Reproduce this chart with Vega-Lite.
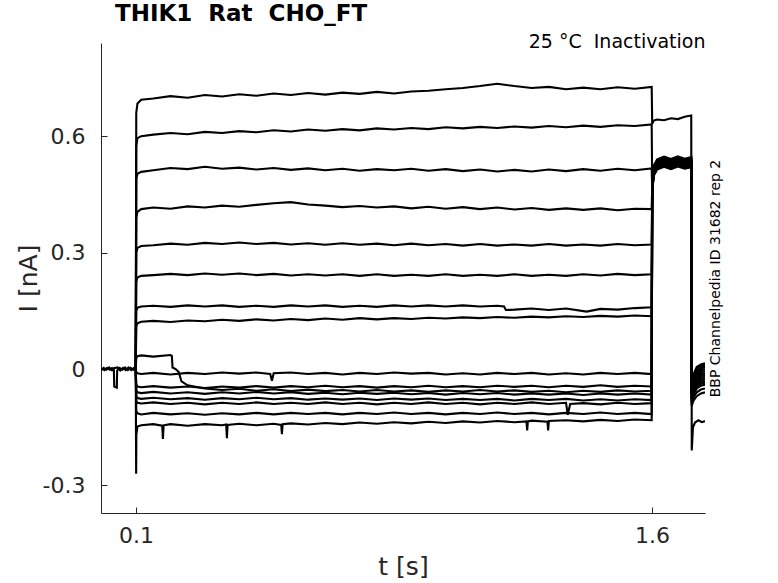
{
  "$schema": "https://vega.github.io/schema/vega-lite/v6.json",
  "width": 604,
  "height": 470,
  "autosize": {"type": "none"},
  "padding": {"left": 101, "top": 43, "right": 73, "bottom": 70},
  "background": "white",
  "title": {
    "text": "THIK1\u00a0\u00a0Rat\u00a0\u00a0CHO_FT",
    "anchor": "start",
    "frame": "group",
    "dx": 14,
    "offset": 6,
    "font": "DejaVu Sans",
    "fontSize": 23,
    "fontWeight": "bold",
    "color": "black"
  },
  "config": {
    "view": {"stroke": null},
    "axis": {
      "grid": false,
      "domainColor": "#262626",
      "tickColor": "#262626",
      "labelColor": "#262626",
      "titleColor": "#262626",
      "labelFont": "DejaVu Sans",
      "titleFont": "DejaVu Sans",
      "titleFontWeight": "normal"
    }
  },
  "data": {
    "values": [
      {"k":0,"t":0,"i":0.002},{"k":0,"t":0.008,"i":-0.003},{"k":0,"t":0.016,"i":0.003},{"k":0,"t":0.024,"i":-0.002},{"k":0,"t":0.03,"i":0.002},{"k":0,"t":0.0355,"i":-0.003},{"k":0,"t":0.0365,"i":-0.045},{"k":0,"t":0.044,"i":-0.048},{"k":0,"t":0.045,"i":-0.004},{"k":0,"t":0.052,"i":0.003},{"k":0,"t":0.06,"i":-0.002},{"k":0,"t":0.068,"i":0.004},{"k":0,"t":0.076,"i":-0.003},{"k":0,"t":0.084,"i":0.003},{"k":0,"t":0.092,"i":-0.002},{"k":0,"t":0.0985,"i":0.001},
      {"k":17,"t":0,"i":-0.003},{"k":17,"t":0.006,"i":0.003},{"k":17,"t":0.014,"i":-0.002},{"k":17,"t":0.022,"i":0.004},{"k":17,"t":0.03,"i":-0.003},{"k":17,"t":0.035,"i":0.002},{"k":17,"t":0.046,"i":0.004},{"k":17,"t":0.054,"i":-0.004},{"k":17,"t":0.062,"i":0.003},{"k":17,"t":0.07,"i":-0.003},{"k":17,"t":0.078,"i":0.004},{"k":17,"t":0.086,"i":-0.003},{"k":17,"t":0.094,"i":0.003},{"k":17,"t":0.0985,"i":-0.001},

      {"k":1,"t":0.099,"i":0.001},{"k":1,"t":0.1005,"i":0.66},{"k":1,"t":0.104,"i":0.684},{"k":1,"t":0.115,"i":0.694},{"k":1,"t":0.15,"i":0.697},{"k":1,"t":0.2,"i":0.703},{"k":1,"t":0.25,"i":0.699},{"k":1,"t":0.3,"i":0.706},{"k":1,"t":0.35,"i":0.702},{"k":1,"t":0.4,"i":0.708},{"k":1,"t":0.45,"i":0.704},{"k":1,"t":0.5,"i":0.71},{"k":1,"t":0.55,"i":0.706},{"k":1,"t":0.6,"i":0.711},{"k":1,"t":0.65,"i":0.707},{"k":1,"t":0.7,"i":0.712},{"k":1,"t":0.75,"i":0.709},{"k":1,"t":0.8,"i":0.714},{"k":1,"t":0.85,"i":0.71},{"k":1,"t":0.9,"i":0.715},{"k":1,"t":0.95,"i":0.717},{"k":1,"t":1.0,"i":0.721},{"k":1,"t":1.05,"i":0.724},{"k":1,"t":1.1,"i":0.729},{"k":1,"t":1.15,"i":0.735},{"k":1,"t":1.2,"i":0.729},{"k":1,"t":1.25,"i":0.724},{"k":1,"t":1.3,"i":0.727},{"k":1,"t":1.35,"i":0.721},{"k":1,"t":1.4,"i":0.725},{"k":1,"t":1.45,"i":0.721},{"k":1,"t":1.5,"i":0.726},{"k":1,"t":1.55,"i":0.722},{"k":1,"t":1.599,"i":0.727},
      {"k":1,"t":1.6005,"i":0.632},{"k":1,"t":1.605,"i":0.64},{"k":1,"t":1.615,"i":0.643},{"k":1,"t":1.635,"i":0.641},{"k":1,"t":1.655,"i":0.646},{"k":1,"t":1.675,"i":0.644},{"k":1,"t":1.695,"i":0.65},{"k":1,"t":1.714,"i":0.653},{"k":1,"t":1.7155,"i":-0.21},{"k":1,"t":1.719,"i":-0.15},{"k":1,"t":1.725,"i":-0.138},{"k":1,"t":1.735,"i":-0.132},{"k":1,"t":1.745,"i":-0.137},{"k":1,"t":1.754,"i":-0.134},

      {"k":2,"t":0.099,"i":0.0},{"k":2,"t":0.1005,"i":0.575},{"k":2,"t":0.104,"i":0.595},{"k":2,"t":0.115,"i":0.6},{"k":2,"t":0.15,"i":0.604},{"k":2,"t":0.2,"i":0.608},{"k":2,"t":0.25,"i":0.605},{"k":2,"t":0.3,"i":0.611},{"k":2,"t":0.35,"i":0.608},{"k":2,"t":0.4,"i":0.613},{"k":2,"t":0.45,"i":0.61},{"k":2,"t":0.5,"i":0.615},{"k":2,"t":0.55,"i":0.612},{"k":2,"t":0.6,"i":0.617},{"k":2,"t":0.65,"i":0.614},{"k":2,"t":0.7,"i":0.618},{"k":2,"t":0.75,"i":0.615},{"k":2,"t":0.8,"i":0.62},{"k":2,"t":0.85,"i":0.617},{"k":2,"t":0.9,"i":0.621},{"k":2,"t":0.95,"i":0.618},{"k":2,"t":1.0,"i":0.623},{"k":2,"t":1.05,"i":0.62},{"k":2,"t":1.1,"i":0.624},{"k":2,"t":1.15,"i":0.621},{"k":2,"t":1.2,"i":0.625},{"k":2,"t":1.25,"i":0.622},{"k":2,"t":1.3,"i":0.626},{"k":2,"t":1.35,"i":0.623},{"k":2,"t":1.4,"i":0.627},{"k":2,"t":1.45,"i":0.624},{"k":2,"t":1.5,"i":0.628},{"k":2,"t":1.55,"i":0.626},{"k":2,"t":1.599,"i":0.63},
      {"k":2,"t":1.6005,"i":0.476},{"k":2,"t":1.605,"i":0.52},{"k":2,"t":1.615,"i":0.536},{"k":2,"t":1.635,"i":0.544},{"k":2,"t":1.655,"i":0.537},{"k":2,"t":1.675,"i":0.545},{"k":2,"t":1.695,"i":0.539},{"k":2,"t":1.714,"i":0.543},{"k":2,"t":1.7155,"i":-0.04},{"k":2,"t":1.72,"i":-0.018},{"k":2,"t":1.73,"i":0.002},{"k":2,"t":1.742,"i":0.009},{"k":2,"t":1.754,"i":0.012},

      {"k":3,"t":0.099,"i":0.001},{"k":3,"t":0.1005,"i":0.49},{"k":3,"t":0.104,"i":0.503},{"k":3,"t":0.115,"i":0.508},{"k":3,"t":0.15,"i":0.512},{"k":3,"t":0.2,"i":0.518},{"k":3,"t":0.25,"i":0.515},{"k":3,"t":0.3,"i":0.521},{"k":3,"t":0.35,"i":0.516},{"k":3,"t":0.4,"i":0.519},{"k":3,"t":0.45,"i":0.514},{"k":3,"t":0.5,"i":0.518},{"k":3,"t":0.55,"i":0.513},{"k":3,"t":0.6,"i":0.517},{"k":3,"t":0.65,"i":0.512},{"k":3,"t":0.7,"i":0.516},{"k":3,"t":0.75,"i":0.511},{"k":3,"t":0.8,"i":0.515},{"k":3,"t":0.85,"i":0.512},{"k":3,"t":0.9,"i":0.516},{"k":3,"t":0.95,"i":0.511},{"k":3,"t":1.0,"i":0.515},{"k":3,"t":1.05,"i":0.51},{"k":3,"t":1.1,"i":0.514},{"k":3,"t":1.15,"i":0.509},{"k":3,"t":1.2,"i":0.513},{"k":3,"t":1.25,"i":0.509},{"k":3,"t":1.3,"i":0.514},{"k":3,"t":1.35,"i":0.51},{"k":3,"t":1.4,"i":0.515},{"k":3,"t":1.45,"i":0.511},{"k":3,"t":1.5,"i":0.516},{"k":3,"t":1.55,"i":0.512},{"k":3,"t":1.599,"i":0.517},
      {"k":3,"t":1.6005,"i":0.462},{"k":3,"t":1.605,"i":0.505},{"k":3,"t":1.615,"i":0.521},{"k":3,"t":1.635,"i":0.528},{"k":3,"t":1.655,"i":0.522},{"k":3,"t":1.675,"i":0.53},{"k":3,"t":1.695,"i":0.523},{"k":3,"t":1.714,"i":0.527},{"k":3,"t":1.7155,"i":-0.052},{"k":3,"t":1.72,"i":-0.03},{"k":3,"t":1.73,"i":-0.012},{"k":3,"t":1.742,"i":-0.003},{"k":3,"t":1.754,"i":0.0},

      {"k":4,"t":0.099,"i":0.0},{"k":4,"t":0.1005,"i":0.39},{"k":4,"t":0.104,"i":0.405},{"k":4,"t":0.115,"i":0.412},{"k":4,"t":0.15,"i":0.416},{"k":4,"t":0.2,"i":0.413},{"k":4,"t":0.25,"i":0.419},{"k":4,"t":0.3,"i":0.416},{"k":4,"t":0.35,"i":0.421},{"k":4,"t":0.4,"i":0.418},{"k":4,"t":0.45,"i":0.423},{"k":4,"t":0.5,"i":0.427},{"k":4,"t":0.55,"i":0.43},{"k":4,"t":0.6,"i":0.424},{"k":4,"t":0.65,"i":0.421},{"k":4,"t":0.7,"i":0.417},{"k":4,"t":0.75,"i":0.42},{"k":4,"t":0.8,"i":0.416},{"k":4,"t":0.85,"i":0.419},{"k":4,"t":0.9,"i":0.414},{"k":4,"t":0.95,"i":0.418},{"k":4,"t":1.0,"i":0.413},{"k":4,"t":1.05,"i":0.417},{"k":4,"t":1.1,"i":0.412},{"k":4,"t":1.15,"i":0.416},{"k":4,"t":1.2,"i":0.411},{"k":4,"t":1.25,"i":0.415},{"k":4,"t":1.3,"i":0.41},{"k":4,"t":1.35,"i":0.414},{"k":4,"t":1.4,"i":0.41},{"k":4,"t":1.45,"i":0.414},{"k":4,"t":1.5,"i":0.409},{"k":4,"t":1.55,"i":0.413},{"k":4,"t":1.599,"i":0.412},
      {"k":4,"t":1.6005,"i":0.47},{"k":4,"t":1.605,"i":0.514},{"k":4,"t":1.615,"i":0.531},{"k":4,"t":1.635,"i":0.539},{"k":4,"t":1.655,"i":0.532},{"k":4,"t":1.675,"i":0.538},{"k":4,"t":1.695,"i":0.533},{"k":4,"t":1.714,"i":0.537},{"k":4,"t":1.7155,"i":-0.062},{"k":4,"t":1.72,"i":-0.04},{"k":4,"t":1.73,"i":-0.022},{"k":4,"t":1.742,"i":-0.013},{"k":4,"t":1.754,"i":-0.01},

      {"k":5,"t":0.099,"i":-0.001},{"k":5,"t":0.1005,"i":0.3},{"k":5,"t":0.104,"i":0.312},{"k":5,"t":0.115,"i":0.317},{"k":5,"t":0.15,"i":0.319},{"k":5,"t":0.2,"i":0.323},{"k":5,"t":0.25,"i":0.32},{"k":5,"t":0.3,"i":0.325},{"k":5,"t":0.35,"i":0.322},{"k":5,"t":0.4,"i":0.326},{"k":5,"t":0.45,"i":0.322},{"k":5,"t":0.5,"i":0.325},{"k":5,"t":0.55,"i":0.321},{"k":5,"t":0.6,"i":0.324},{"k":5,"t":0.65,"i":0.32},{"k":5,"t":0.7,"i":0.324},{"k":5,"t":0.75,"i":0.32},{"k":5,"t":0.8,"i":0.323},{"k":5,"t":0.85,"i":0.319},{"k":5,"t":0.9,"i":0.323},{"k":5,"t":0.95,"i":0.319},{"k":5,"t":1.0,"i":0.322},{"k":5,"t":1.05,"i":0.318},{"k":5,"t":1.1,"i":0.322},{"k":5,"t":1.15,"i":0.318},{"k":5,"t":1.2,"i":0.321},{"k":5,"t":1.25,"i":0.318},{"k":5,"t":1.3,"i":0.322},{"k":5,"t":1.35,"i":0.318},{"k":5,"t":1.4,"i":0.321},{"k":5,"t":1.45,"i":0.318},{"k":5,"t":1.5,"i":0.322},{"k":5,"t":1.55,"i":0.319},{"k":5,"t":1.599,"i":0.321},
      {"k":5,"t":1.6005,"i":0.458},{"k":5,"t":1.605,"i":0.5},{"k":5,"t":1.615,"i":0.517},{"k":5,"t":1.635,"i":0.523},{"k":5,"t":1.655,"i":0.516},{"k":5,"t":1.675,"i":0.524},{"k":5,"t":1.695,"i":0.518},{"k":5,"t":1.714,"i":0.522},{"k":5,"t":1.7155,"i":-0.045},{"k":5,"t":1.72,"i":-0.024},{"k":5,"t":1.73,"i":-0.005},{"k":5,"t":1.742,"i":0.004},{"k":5,"t":1.754,"i":0.008},

      {"k":6,"t":0.099,"i":0.001},{"k":6,"t":0.1005,"i":0.225},{"k":6,"t":0.104,"i":0.236},{"k":6,"t":0.115,"i":0.24},{"k":6,"t":0.15,"i":0.242},{"k":6,"t":0.2,"i":0.245},{"k":6,"t":0.25,"i":0.242},{"k":6,"t":0.3,"i":0.246},{"k":6,"t":0.35,"i":0.243},{"k":6,"t":0.4,"i":0.246},{"k":6,"t":0.45,"i":0.242},{"k":6,"t":0.5,"i":0.245},{"k":6,"t":0.55,"i":0.241},{"k":6,"t":0.6,"i":0.244},{"k":6,"t":0.65,"i":0.241},{"k":6,"t":0.7,"i":0.244},{"k":6,"t":0.75,"i":0.24},{"k":6,"t":0.8,"i":0.244},{"k":6,"t":0.85,"i":0.24},{"k":6,"t":0.9,"i":0.243},{"k":6,"t":0.95,"i":0.24},{"k":6,"t":1.0,"i":0.244},{"k":6,"t":1.05,"i":0.24},{"k":6,"t":1.1,"i":0.243},{"k":6,"t":1.15,"i":0.24},{"k":6,"t":1.2,"i":0.244},{"k":6,"t":1.25,"i":0.24},{"k":6,"t":1.3,"i":0.243},{"k":6,"t":1.35,"i":0.24},{"k":6,"t":1.4,"i":0.244},{"k":6,"t":1.45,"i":0.241},{"k":6,"t":1.5,"i":0.245},{"k":6,"t":1.55,"i":0.242},{"k":6,"t":1.599,"i":0.244},
      {"k":6,"t":1.6005,"i":0.478},{"k":6,"t":1.605,"i":0.522},{"k":6,"t":1.615,"i":0.538},{"k":6,"t":1.635,"i":0.546},{"k":6,"t":1.655,"i":0.539},{"k":6,"t":1.675,"i":0.545},{"k":6,"t":1.695,"i":0.54},{"k":6,"t":1.714,"i":0.544},{"k":6,"t":1.7155,"i":-0.07},{"k":6,"t":1.72,"i":-0.05},{"k":6,"t":1.73,"i":-0.032},{"k":6,"t":1.742,"i":-0.023},{"k":6,"t":1.754,"i":-0.02},

      {"k":7,"t":0.099,"i":0.0},{"k":7,"t":0.1005,"i":0.15},{"k":7,"t":0.104,"i":0.158},{"k":7,"t":0.115,"i":0.161},{"k":7,"t":0.15,"i":0.163},{"k":7,"t":0.2,"i":0.16},{"k":7,"t":0.25,"i":0.164},{"k":7,"t":0.3,"i":0.161},{"k":7,"t":0.35,"i":0.164},{"k":7,"t":0.4,"i":0.16},{"k":7,"t":0.45,"i":0.163},{"k":7,"t":0.5,"i":0.16},{"k":7,"t":0.55,"i":0.164},{"k":7,"t":0.6,"i":0.161},{"k":7,"t":0.65,"i":0.164},{"k":7,"t":0.7,"i":0.16},{"k":7,"t":0.75,"i":0.163},{"k":7,"t":0.8,"i":0.16},{"k":7,"t":0.85,"i":0.164},{"k":7,"t":0.9,"i":0.161},{"k":7,"t":0.95,"i":0.164},{"k":7,"t":1.0,"i":0.161},{"k":7,"t":1.05,"i":0.164},{"k":7,"t":1.1,"i":0.161},{"k":7,"t":1.15,"i":0.163},{"k":7,"t":1.17,"i":0.161},{"k":7,"t":1.175,"i":0.152},{"k":7,"t":1.2,"i":0.153},{"k":7,"t":1.25,"i":0.156},{"k":7,"t":1.3,"i":0.152},{"k":7,"t":1.35,"i":0.156},{"k":7,"t":1.41,"i":0.148},{"k":7,"t":1.45,"i":0.155},{"k":7,"t":1.5,"i":0.153},{"k":7,"t":1.55,"i":0.157},{"k":7,"t":1.599,"i":0.159},
      {"k":7,"t":1.6005,"i":0.466},{"k":7,"t":1.605,"i":0.51},{"k":7,"t":1.615,"i":0.527},{"k":7,"t":1.635,"i":0.534},{"k":7,"t":1.655,"i":0.526},{"k":7,"t":1.675,"i":0.533},{"k":7,"t":1.695,"i":0.528},{"k":7,"t":1.714,"i":0.532},{"k":7,"t":1.7155,"i":-0.035},{"k":7,"t":1.72,"i":-0.015},{"k":7,"t":1.73,"i":0.005},{"k":7,"t":1.742,"i":0.012},{"k":7,"t":1.754,"i":0.015},

      {"k":8,"t":0.099,"i":0.001},{"k":8,"t":0.1005,"i":0.11},{"k":8,"t":0.104,"i":0.118},{"k":8,"t":0.115,"i":0.122},{"k":8,"t":0.15,"i":0.124},{"k":8,"t":0.2,"i":0.121},{"k":8,"t":0.25,"i":0.125},{"k":8,"t":0.3,"i":0.123},{"k":8,"t":0.35,"i":0.127},{"k":8,"t":0.4,"i":0.124},{"k":8,"t":0.45,"i":0.128},{"k":8,"t":0.5,"i":0.125},{"k":8,"t":0.55,"i":0.129},{"k":8,"t":0.6,"i":0.126},{"k":8,"t":0.65,"i":0.13},{"k":8,"t":0.7,"i":0.127},{"k":8,"t":0.75,"i":0.131},{"k":8,"t":0.8,"i":0.128},{"k":8,"t":0.85,"i":0.131},{"k":8,"t":0.9,"i":0.129},{"k":8,"t":0.95,"i":0.132},{"k":8,"t":1.0,"i":0.13},{"k":8,"t":1.05,"i":0.133},{"k":8,"t":1.1,"i":0.131},{"k":8,"t":1.15,"i":0.134},{"k":8,"t":1.2,"i":0.132},{"k":8,"t":1.25,"i":0.135},{"k":8,"t":1.3,"i":0.133},{"k":8,"t":1.35,"i":0.136},{"k":8,"t":1.4,"i":0.134},{"k":8,"t":1.45,"i":0.137},{"k":8,"t":1.5,"i":0.135},{"k":8,"t":1.55,"i":0.138},{"k":8,"t":1.599,"i":0.136},
      {"k":8,"t":1.6005,"i":0.455},{"k":8,"t":1.605,"i":0.498},{"k":8,"t":1.615,"i":0.514},{"k":8,"t":1.635,"i":0.521},{"k":8,"t":1.655,"i":0.515},{"k":8,"t":1.675,"i":0.522},{"k":8,"t":1.695,"i":0.516},{"k":8,"t":1.714,"i":0.52},{"k":8,"t":1.7155,"i":-0.078},{"k":8,"t":1.72,"i":-0.058},{"k":8,"t":1.73,"i":-0.042},{"k":8,"t":1.742,"i":-0.033},{"k":8,"t":1.754,"i":-0.03},

      {"k":9,"t":0.099,"i":0.001},{"k":9,"t":0.1005,"i":0.028},{"k":9,"t":0.104,"i":0.033},{"k":9,"t":0.115,"i":0.035},{"k":9,"t":0.15,"i":0.032},{"k":9,"t":0.2,"i":0.036},{"k":9,"t":0.204,"i":0.034},{"k":9,"t":0.206,"i":0.004},{"k":9,"t":0.215,"i":0.0},{"k":9,"t":0.224,"i":-0.008},{"k":9,"t":0.232,"i":-0.032},{"k":9,"t":0.25,"i":-0.042},{"k":9,"t":0.3,"i":-0.05},{"k":9,"t":0.35,"i":-0.054},{"k":9,"t":0.4,"i":-0.051},{"k":9,"t":0.45,"i":-0.056},{"k":9,"t":0.5,"i":-0.052},{"k":9,"t":0.55,"i":-0.057},{"k":9,"t":0.6,"i":-0.053},{"k":9,"t":0.65,"i":-0.057},{"k":9,"t":0.7,"i":-0.054},{"k":9,"t":0.75,"i":-0.058},{"k":9,"t":0.8,"i":-0.054},{"k":9,"t":0.85,"i":-0.058},{"k":9,"t":0.9,"i":-0.055},{"k":9,"t":0.95,"i":-0.059},{"k":9,"t":1.0,"i":-0.055},{"k":9,"t":1.05,"i":-0.058},{"k":9,"t":1.1,"i":-0.054},{"k":9,"t":1.15,"i":-0.058},{"k":9,"t":1.2,"i":-0.055},{"k":9,"t":1.25,"i":-0.059},{"k":9,"t":1.3,"i":-0.056},{"k":9,"t":1.35,"i":-0.06},{"k":9,"t":1.4,"i":-0.056},{"k":9,"t":1.45,"i":-0.059},{"k":9,"t":1.5,"i":-0.055},{"k":9,"t":1.55,"i":-0.058},{"k":9,"t":1.599,"i":-0.056},
      {"k":9,"t":1.6005,"i":0.472},{"k":9,"t":1.605,"i":0.517},{"k":9,"t":1.615,"i":0.533},{"k":9,"t":1.635,"i":0.54},{"k":9,"t":1.655,"i":0.534},{"k":9,"t":1.675,"i":0.541},{"k":9,"t":1.695,"i":0.535},{"k":9,"t":1.714,"i":0.539},{"k":9,"t":1.7155,"i":-0.056},{"k":9,"t":1.72,"i":-0.035},{"k":9,"t":1.73,"i":-0.016},{"k":9,"t":1.742,"i":-0.008},{"k":9,"t":1.754,"i":-0.005},

      {"k":10,"t":0.099,"i":0.0},{"k":10,"t":0.1005,"i":-0.008},{"k":10,"t":0.104,"i":-0.011},{"k":10,"t":0.115,"i":-0.013},{"k":10,"t":0.15,"i":-0.01},{"k":10,"t":0.2,"i":-0.014},{"k":10,"t":0.25,"i":-0.01},{"k":10,"t":0.3,"i":-0.013},{"k":10,"t":0.35,"i":-0.009},{"k":10,"t":0.4,"i":-0.012},{"k":10,"t":0.45,"i":-0.009},{"k":10,"t":0.49,"i":-0.013},{"k":10,"t":0.495,"i":-0.03},{"k":10,"t":0.5,"i":-0.011},{"k":10,"t":0.55,"i":-0.009},{"k":10,"t":0.6,"i":-0.013},{"k":10,"t":0.65,"i":-0.01},{"k":10,"t":0.7,"i":-0.014},{"k":10,"t":0.75,"i":-0.01},{"k":10,"t":0.8,"i":-0.013},{"k":10,"t":0.85,"i":-0.009},{"k":10,"t":0.9,"i":-0.012},{"k":10,"t":0.95,"i":-0.01},{"k":10,"t":1.0,"i":-0.014},{"k":10,"t":1.05,"i":-0.011},{"k":10,"t":1.1,"i":-0.014},{"k":10,"t":1.15,"i":-0.01},{"k":10,"t":1.2,"i":-0.013},{"k":10,"t":1.25,"i":-0.01},{"k":10,"t":1.3,"i":-0.014},{"k":10,"t":1.35,"i":-0.011},{"k":10,"t":1.4,"i":-0.014},{"k":10,"t":1.45,"i":-0.01},{"k":10,"t":1.5,"i":-0.013},{"k":10,"t":1.55,"i":-0.01},{"k":10,"t":1.599,"i":-0.013},
      {"k":10,"t":1.6005,"i":0.464},{"k":10,"t":1.605,"i":0.507},{"k":10,"t":1.615,"i":0.523},{"k":10,"t":1.635,"i":0.53},{"k":10,"t":1.655,"i":0.524},{"k":10,"t":1.675,"i":0.531},{"k":10,"t":1.695,"i":0.525},{"k":10,"t":1.714,"i":0.529},{"k":10,"t":1.7155,"i":-0.048},{"k":10,"t":1.72,"i":-0.026},{"k":10,"t":1.73,"i":-0.008},{"k":10,"t":1.742,"i":0.002},{"k":10,"t":1.754,"i":0.005},

      {"k":11,"t":0.099,"i":0.0},{"k":11,"t":0.1005,"i":-0.04},{"k":11,"t":0.104,"i":-0.045},{"k":11,"t":0.115,"i":-0.047},{"k":11,"t":0.15,"i":-0.044},{"k":11,"t":0.2,"i":-0.048},{"k":11,"t":0.25,"i":-0.045},{"k":11,"t":0.3,"i":-0.049},{"k":11,"t":0.35,"i":-0.045},{"k":11,"t":0.4,"i":-0.048},{"k":11,"t":0.45,"i":-0.044},{"k":11,"t":0.5,"i":-0.048},{"k":11,"t":0.55,"i":-0.044},{"k":11,"t":0.6,"i":-0.047},{"k":11,"t":0.65,"i":-0.043},{"k":11,"t":0.7,"i":-0.047},{"k":11,"t":0.75,"i":-0.044},{"k":11,"t":0.8,"i":-0.048},{"k":11,"t":0.85,"i":-0.044},{"k":11,"t":0.9,"i":-0.047},{"k":11,"t":0.95,"i":-0.043},{"k":11,"t":1.0,"i":-0.047},{"k":11,"t":1.05,"i":-0.044},{"k":11,"t":1.1,"i":-0.047},{"k":11,"t":1.15,"i":-0.043},{"k":11,"t":1.2,"i":-0.046},{"k":11,"t":1.25,"i":-0.043},{"k":11,"t":1.3,"i":-0.047},{"k":11,"t":1.35,"i":-0.043},{"k":11,"t":1.4,"i":-0.046},{"k":11,"t":1.45,"i":-0.042},{"k":11,"t":1.5,"i":-0.046},{"k":11,"t":1.55,"i":-0.043},{"k":11,"t":1.599,"i":-0.045},
      {"k":11,"t":1.6005,"i":0.48},{"k":11,"t":1.605,"i":0.524},{"k":11,"t":1.615,"i":0.54},{"k":11,"t":1.635,"i":0.547},{"k":11,"t":1.655,"i":0.541},{"k":11,"t":1.675,"i":0.548},{"k":11,"t":1.695,"i":0.542},{"k":11,"t":1.714,"i":0.546},{"k":11,"t":1.7155,"i":-0.085},{"k":11,"t":1.72,"i":-0.066},{"k":11,"t":1.73,"i":-0.05},{"k":11,"t":1.742,"i":-0.043},{"k":11,"t":1.754,"i":-0.04},

      {"k":12,"t":0.099,"i":0.0},{"k":12,"t":0.1005,"i":-0.055},{"k":12,"t":0.104,"i":-0.06},{"k":12,"t":0.115,"i":-0.062},{"k":12,"t":0.15,"i":-0.059},{"k":12,"t":0.2,"i":-0.063},{"k":12,"t":0.25,"i":-0.06},{"k":12,"t":0.3,"i":-0.064},{"k":12,"t":0.35,"i":-0.06},{"k":12,"t":0.4,"i":-0.063},{"k":12,"t":0.45,"i":-0.059},{"k":12,"t":0.5,"i":-0.063},{"k":12,"t":0.55,"i":-0.06},{"k":12,"t":0.6,"i":-0.064},{"k":12,"t":0.65,"i":-0.061},{"k":12,"t":0.7,"i":-0.065},{"k":12,"t":0.75,"i":-0.061},{"k":12,"t":0.8,"i":-0.064},{"k":12,"t":0.85,"i":-0.061},{"k":12,"t":0.9,"i":-0.065},{"k":12,"t":0.95,"i":-0.062},{"k":12,"t":1.0,"i":-0.066},{"k":12,"t":1.05,"i":-0.062},{"k":12,"t":1.1,"i":-0.065},{"k":12,"t":1.15,"i":-0.062},{"k":12,"t":1.2,"i":-0.066},{"k":12,"t":1.25,"i":-0.063},{"k":12,"t":1.3,"i":-0.066},{"k":12,"t":1.35,"i":-0.063},{"k":12,"t":1.4,"i":-0.067},{"k":12,"t":1.45,"i":-0.063},{"k":12,"t":1.5,"i":-0.066},{"k":12,"t":1.55,"i":-0.063},{"k":12,"t":1.599,"i":-0.066},
      {"k":12,"t":1.6005,"i":0.46},{"k":12,"t":1.605,"i":0.502},{"k":12,"t":1.615,"i":0.518},{"k":12,"t":1.635,"i":0.525},{"k":12,"t":1.655,"i":0.519},{"k":12,"t":1.675,"i":0.526},{"k":12,"t":1.695,"i":0.52},{"k":12,"t":1.714,"i":0.524},{"k":12,"t":1.7155,"i":-0.066},{"k":12,"t":1.72,"i":-0.045},{"k":12,"t":1.73,"i":-0.027},{"k":12,"t":1.742,"i":-0.018},{"k":12,"t":1.754,"i":-0.015},

      {"k":13,"t":0.099,"i":0.0},{"k":13,"t":0.1005,"i":-0.07},{"k":13,"t":0.104,"i":-0.075},{"k":13,"t":0.115,"i":-0.077},{"k":13,"t":0.15,"i":-0.074},{"k":13,"t":0.2,"i":-0.078},{"k":13,"t":0.25,"i":-0.075},{"k":13,"t":0.3,"i":-0.079},{"k":13,"t":0.35,"i":-0.075},{"k":13,"t":0.4,"i":-0.078},{"k":13,"t":0.45,"i":-0.074},{"k":13,"t":0.5,"i":-0.078},{"k":13,"t":0.55,"i":-0.075},{"k":13,"t":0.6,"i":-0.079},{"k":13,"t":0.65,"i":-0.076},{"k":13,"t":0.7,"i":-0.079},{"k":13,"t":0.75,"i":-0.076},{"k":13,"t":0.8,"i":-0.08},{"k":13,"t":0.85,"i":-0.076},{"k":13,"t":0.9,"i":-0.079},{"k":13,"t":0.95,"i":-0.076},{"k":13,"t":1.0,"i":-0.08},{"k":13,"t":1.05,"i":-0.077},{"k":13,"t":1.1,"i":-0.08},{"k":13,"t":1.15,"i":-0.077},{"k":13,"t":1.2,"i":-0.081},{"k":13,"t":1.25,"i":-0.077},{"k":13,"t":1.3,"i":-0.08},{"k":13,"t":1.35,"i":-0.077},{"k":13,"t":1.4,"i":-0.081},{"k":13,"t":1.45,"i":-0.078},{"k":13,"t":1.5,"i":-0.081},{"k":13,"t":1.55,"i":-0.078},{"k":13,"t":1.599,"i":-0.08},
      {"k":13,"t":1.6005,"i":0.469},{"k":13,"t":1.605,"i":0.513},{"k":13,"t":1.615,"i":0.529},{"k":13,"t":1.635,"i":0.536},{"k":13,"t":1.655,"i":0.53},{"k":13,"t":1.675,"i":0.537},{"k":13,"t":1.695,"i":0.531},{"k":13,"t":1.714,"i":0.535},{"k":13,"t":1.7155,"i":-0.09},{"k":13,"t":1.72,"i":-0.074},{"k":13,"t":1.73,"i":-0.06},{"k":13,"t":1.742,"i":-0.053},{"k":13,"t":1.754,"i":-0.05},

      {"k":14,"t":0.099,"i":0.0},{"k":14,"t":0.1005,"i":-0.082},{"k":14,"t":0.104,"i":-0.087},{"k":14,"t":0.115,"i":-0.089},{"k":14,"t":0.15,"i":-0.086},{"k":14,"t":0.2,"i":-0.09},{"k":14,"t":0.25,"i":-0.087},{"k":14,"t":0.3,"i":-0.091},{"k":14,"t":0.35,"i":-0.087},{"k":14,"t":0.4,"i":-0.09},{"k":14,"t":0.45,"i":-0.086},{"k":14,"t":0.5,"i":-0.09},{"k":14,"t":0.55,"i":-0.087},{"k":14,"t":0.6,"i":-0.09},{"k":14,"t":0.65,"i":-0.086},{"k":14,"t":0.7,"i":-0.09},{"k":14,"t":0.75,"i":-0.087},{"k":14,"t":0.8,"i":-0.091},{"k":14,"t":0.85,"i":-0.087},{"k":14,"t":0.9,"i":-0.09},{"k":14,"t":0.95,"i":-0.086},{"k":14,"t":1.0,"i":-0.09},{"k":14,"t":1.05,"i":-0.087},{"k":14,"t":1.1,"i":-0.091},{"k":14,"t":1.15,"i":-0.087},{"k":14,"t":1.2,"i":-0.09},{"k":14,"t":1.25,"i":-0.086},{"k":14,"t":1.3,"i":-0.09},{"k":14,"t":1.35,"i":-0.087},{"k":14,"t":1.355,"i":-0.118},{"k":14,"t":1.362,"i":-0.09},{"k":14,"t":1.4,"i":-0.088},{"k":14,"t":1.45,"i":-0.091},{"k":14,"t":1.5,"i":-0.087},{"k":14,"t":1.55,"i":-0.09},{"k":14,"t":1.599,"i":-0.088},
      {"k":14,"t":1.6005,"i":0.465},{"k":14,"t":1.605,"i":0.509},{"k":14,"t":1.615,"i":0.525},{"k":14,"t":1.635,"i":0.532},{"k":14,"t":1.655,"i":0.526},{"k":14,"t":1.675,"i":0.533},{"k":14,"t":1.695,"i":0.527},{"k":14,"t":1.714,"i":0.531},{"k":14,"t":1.7155,"i":-0.074},{"k":14,"t":1.72,"i":-0.054},{"k":14,"t":1.73,"i":-0.037},{"k":14,"t":1.742,"i":-0.028},{"k":14,"t":1.754,"i":-0.025},

      {"k":15,"t":0.099,"i":0.0},{"k":15,"t":0.1005,"i":-0.108},{"k":15,"t":0.104,"i":-0.114},{"k":15,"t":0.115,"i":-0.117},{"k":15,"t":0.15,"i":-0.113},{"k":15,"t":0.2,"i":-0.117},{"k":15,"t":0.25,"i":-0.114},{"k":15,"t":0.3,"i":-0.118},{"k":15,"t":0.35,"i":-0.114},{"k":15,"t":0.4,"i":-0.117},{"k":15,"t":0.45,"i":-0.113},{"k":15,"t":0.5,"i":-0.117},{"k":15,"t":0.55,"i":-0.113},{"k":15,"t":0.6,"i":-0.116},{"k":15,"t":0.65,"i":-0.113},{"k":15,"t":0.7,"i":-0.117},{"k":15,"t":0.75,"i":-0.113},{"k":15,"t":0.8,"i":-0.116},{"k":15,"t":0.85,"i":-0.112},{"k":15,"t":0.9,"i":-0.116},{"k":15,"t":0.95,"i":-0.113},{"k":15,"t":1.0,"i":-0.117},{"k":15,"t":1.05,"i":-0.113},{"k":15,"t":1.1,"i":-0.116},{"k":15,"t":1.15,"i":-0.112},{"k":15,"t":1.2,"i":-0.116},{"k":15,"t":1.25,"i":-0.113},{"k":15,"t":1.3,"i":-0.117},{"k":15,"t":1.35,"i":-0.113},{"k":15,"t":1.4,"i":-0.116},{"k":15,"t":1.45,"i":-0.112},{"k":15,"t":1.5,"i":-0.116},{"k":15,"t":1.55,"i":-0.113},{"k":15,"t":1.599,"i":-0.116},
      {"k":15,"t":1.6005,"i":0.474},{"k":15,"t":1.605,"i":0.519},{"k":15,"t":1.615,"i":0.535},{"k":15,"t":1.635,"i":0.542},{"k":15,"t":1.655,"i":0.536},{"k":15,"t":1.675,"i":0.543},{"k":15,"t":1.695,"i":0.537},{"k":15,"t":1.714,"i":0.541},{"k":15,"t":1.7155,"i":-0.095},{"k":15,"t":1.72,"i":-0.082},{"k":15,"t":1.73,"i":-0.07},{"k":15,"t":1.742,"i":-0.063},{"k":15,"t":1.754,"i":-0.06},

      {"k":16,"t":0.099,"i":0.0},{"k":16,"t":0.1002,"i":-0.27},{"k":16,"t":0.1008,"i":-0.17},{"k":16,"t":0.104,"i":-0.148},{"k":16,"t":0.115,"i":-0.145},{"k":16,"t":0.15,"i":-0.142},{"k":16,"t":0.176,"i":-0.146},{"k":16,"t":0.178,"i":-0.18},{"k":16,"t":0.18,"i":-0.145},{"k":16,"t":0.2,"i":-0.142},{"k":16,"t":0.25,"i":-0.146},{"k":16,"t":0.3,"i":-0.142},{"k":16,"t":0.35,"i":-0.145},{"k":16,"t":0.362,"i":-0.143},{"k":16,"t":0.364,"i":-0.178},{"k":16,"t":0.366,"i":-0.144},{"k":16,"t":0.4,"i":-0.141},{"k":16,"t":0.45,"i":-0.145},{"k":16,"t":0.5,"i":-0.141},{"k":16,"t":0.522,"i":-0.144},{"k":16,"t":0.524,"i":-0.168},{"k":16,"t":0.526,"i":-0.142},{"k":16,"t":0.55,"i":-0.14},{"k":16,"t":0.6,"i":-0.143},{"k":16,"t":0.65,"i":-0.139},{"k":16,"t":0.7,"i":-0.142},{"k":16,"t":0.75,"i":-0.138},{"k":16,"t":0.8,"i":-0.141},{"k":16,"t":0.85,"i":-0.137},{"k":16,"t":0.9,"i":-0.14},{"k":16,"t":0.95,"i":-0.136},{"k":16,"t":1.0,"i":-0.139},{"k":16,"t":1.05,"i":-0.135},{"k":16,"t":1.1,"i":-0.138},{"k":16,"t":1.15,"i":-0.134},{"k":16,"t":1.2,"i":-0.137},{"k":16,"t":1.235,"i":-0.135},{"k":16,"t":1.237,"i":-0.158},{"k":16,"t":1.239,"i":-0.135},{"k":16,"t":1.25,"i":-0.133},{"k":16,"t":1.296,"i":-0.136},{"k":16,"t":1.298,"i":-0.158},{"k":16,"t":1.3,"i":-0.134},{"k":16,"t":1.35,"i":-0.132},{"k":16,"t":1.4,"i":-0.135},{"k":16,"t":1.45,"i":-0.131},{"k":16,"t":1.5,"i":-0.134},{"k":16,"t":1.55,"i":-0.13},{"k":16,"t":1.599,"i":-0.132},
      {"k":16,"t":1.6005,"i":0.461},{"k":16,"t":1.605,"i":0.504},{"k":16,"t":1.615,"i":0.52},{"k":16,"t":1.635,"i":0.527},{"k":16,"t":1.655,"i":0.521},{"k":16,"t":1.675,"i":0.528},{"k":16,"t":1.695,"i":0.522},{"k":16,"t":1.714,"i":0.526},{"k":16,"t":1.7155,"i":-0.082},{"k":16,"t":1.72,"i":-0.062},{"k":16,"t":1.73,"i":-0.046},{"k":16,"t":1.742,"i":-0.038},{"k":16,"t":1.754,"i":-0.035}
    ]
  },
  "layer": [
    {
      "mark": {"type": "line", "color": "black", "strokeWidth": 2.1, "clip": true},
      "encoding": {
        "x": {
          "field": "t",
          "type": "quantitative",
          "scale": {"domain": [-0.002, 1.754], "nice": false, "zero": false},
          "axis": {
            "values": [0.1, 1.6],
            "format": ".1f",
            "title": "t [s]",
            "tickSize": -6,
            "labelPadding": 18,
            "labelFontSize": 22,
            "titleFontSize": 25,
            "titlePadding": 8,
            "labelFlush": false
          }
        },
        "y": {
          "field": "i",
          "type": "quantitative",
          "scale": {"domain": [-0.371, 0.84], "nice": false, "zero": false},
          "axis": {
            "values": [-0.3, 0, 0.3, 0.6],
            "labelExpr": "datum.value == 0 ? '0' : (datum.value < 0 ? '-' : '') + format(abs(datum.value), '.1f')",
            "title": "I [nA]",
            "tickSize": -6,
            "labelPadding": 22,
            "labelFontSize": 22,
            "titleFontSize": 25,
            "titlePadding": 1
          }
        },
        "detail": {"field": "k", "type": "nominal"}
      }
    },
    {
      "mark": {"type": "point", "opacity": 0},
      "encoding": {
        "x": {
          "field": "t",
          "type": "quantitative",
          "axis": {
            "orient": "top",
            "domain": false,
            "ticks": false,
            "labels": false,
            "title": "25 °C\u00a0\u00a0Inactivation",
            "titleAnchor": "end",
            "titleFontSize": 19,
            "titleColor": "black",
            "titleY": 4,
            "titleBaseline": "alphabetic"
          }
        },
        "y": {
          "field": "i",
          "type": "quantitative",
          "axis": {
            "orient": "right",
            "domain": false,
            "ticks": false,
            "labels": false,
            "title": "BBP Channelpedia ID 31682 rep 2",
            "titleAngle": 270,
            "titleFontSize": 14,
            "titleColor": "black",
            "titlePadding": 17
          }
        }
      }
    }
  ],
  "resolve": {"axis": {"x": "independent", "y": "independent"}}
}
